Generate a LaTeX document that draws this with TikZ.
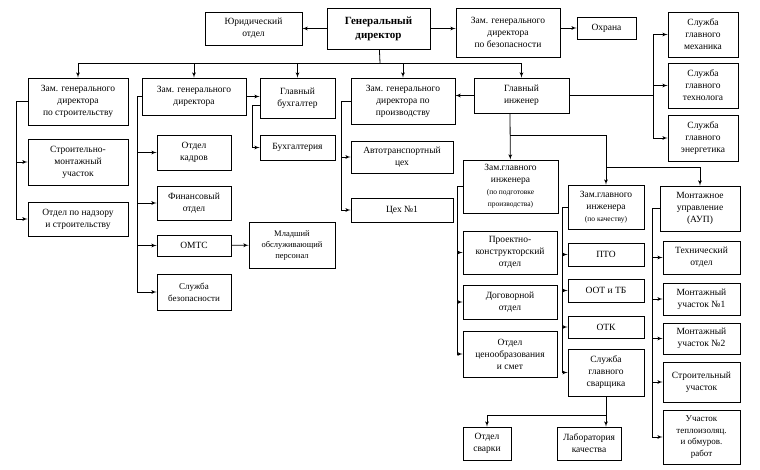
\documentclass[tikz,border=0pt]{standalone}
\usepackage{fontspec}
\setmainfont{Liberation Serif}
\usetikzlibrary{arrows}
\newcommand{\sm}{\fontsize{7.5}{9}\selectfont}
\begin{document}
\begin{tikzpicture}[x=1pt,y=-1pt,>=latex',thick,
  box/.style={draw, rectangle, align=center, inner sep=1pt, font=\fontsize{9.5}{12}\selectfont}]
	\useasboundingbox (0,0) rectangle (760,469);
	\node [box, minimum width=97, minimum height=33] (n0) at (253.5,28.5) {Юридический\\отдел};
	\node [box, minimum width=103, minimum height=41, font=\fontsize{11}{14}\selectfont\bfseries] (n1) at (378.5,28.5) {Генеральный\\директор};
	\node [box, minimum width=104, minimum height=49] (n2) at (508,32.5) {Зам. генерального\\директора\\по безопасности};
	\node [box, minimum width=59, minimum height=22] (n3) at (606.5,28) {Охрана};
	\node [box, minimum width=70, minimum height=45] (n4) at (703,34.5) {Служба\\главного\\механика};
	\node [box, minimum width=70, minimum height=45] (n5) at (703,85.5) {Служба\\главного\\технолога};
	\node [box, minimum width=70, minimum height=46] (n6) at (703,138) {Служба\\главного\\энергетика};
	\node [box, minimum width=100, minimum height=47] (n7) at (78,101.5) {Зам. генерального\\директора\\по строительству};
	\node [box, minimum width=104, minimum height=37] (n8) at (194,96.5) {Зам. генерального\\директора};
	\node [box, minimum width=75, minimum height=40] (n9) at (297.5,98) {Главный\\бухгалтер};
	\node [box, minimum width=104, minimum height=46] (n10) at (403,101) {Зам. генерального\\директора по\\производству};
	\node [box, minimum width=95, minimum height=35] (n11) at (521.5,95.5) {Главный\\инженер};
	\node [box, minimum width=100, minimum height=46] (n12) at (78,162) {Строительно-\\монтажный\\участок};
	\node [box, minimum width=100, minimum height=34] (n13) at (78,219) {Отдел по надзору\\и строительству};
	\node [box, minimum width=74, minimum height=35] (n14) at (194,152.5) {Отдел\\кадров};
	\node [box, minimum width=74, minimum height=34] (n15) at (194,203) {Финансовый\\отдел};
	\node [box, minimum width=74, minimum height=21] (n16) at (194,245.5) {ОМТС};
	\node [box, minimum width=74, minimum height=36, font=\fontsize{9}{12}\selectfont] (n17) at (194,292) {Служба\\безопасности};
	\node [box, minimum width=86, minimum height=46, font=\fontsize{8.5}{11}\selectfont] (n18) at (292,245) {Младший\\обслуживающий\\персонал};
	\node [box, minimum width=75, minimum height=25] (n19) at (297.5,147.5) {Бухгалтерия};
	\node [box, minimum width=102, minimum height=32] (n20) at (402,157) {Автотранспортный\\цех};
	\node [box, minimum width=102, minimum height=24] (n21) at (402,210) {Цех №1};
	\node [box, minimum width=95, minimum height=53] (n22) at (510.5,186.5) {Зам.главного\\инженера\\\sm(по подготовке\\\sm производства)};
	\node [box, minimum width=94, minimum height=43] (n23) at (510,252.5) {Проектно-\\конструкторский\\отдел};
	\node [box, minimum width=94, minimum height=34] (n24) at (510,302) {Договорной\\отдел};
	\node [box, minimum width=94, minimum height=46] (n25) at (510,354) {Отдел\\ценообразования\\и смет};
	\node [box, minimum width=76, minimum height=44] (n26) at (606,207) {Зам.главного\\инженера\\\sm(по качеству)};
	\node [box, minimum width=76, minimum height=23] (n27) at (606,254.5) {ПТО};
	\node [box, minimum width=76, minimum height=23] (n28) at (606,290.5) {ООТ и ТБ};
	\node [box, minimum width=76, minimum height=22] (n29) at (606,327) {ОТК};
	\node [box, minimum width=76, minimum height=47] (n30) at (606,372.5) {Служба\\главного\\сварщика};
	\node [box, minimum width=48, minimum height=33] (n31) at (487,443.5) {Отдел\\сварки};
	\node [box, minimum width=64, minimum height=33] (n32) at (589,443.5) {Лаборатория\\качества};
	\node [box, minimum width=80, minimum height=45] (n33) at (700,208.5) {Монтажное\\управление\\(АУП)};
	\node [box, minimum width=77, minimum height=33] (n34) at (701.5,257.5) {Технический\\отдел};
	\node [box, minimum width=77, minimum height=32] (n35) at (701.5,299) {Монтажный\\участок №1};
	\node [box, minimum width=77, minimum height=31] (n36) at (701.5,338.5) {Монтажный\\участок №2};
	\node [box, minimum width=77, minimum height=40] (n37) at (701.5,382) {Строительный\\участок};
	\node [box, minimum width=77, minimum height=54, font=\fontsize{9}{11.5}\selectfont] (n38) at (701.5,437) {Участок\\теплоизоляц.\\и обмуров.\\работ};
	\coordinate (top) at (380,63);
	\coordinate (j1) at (510,135);
	\coordinate (j2) at (606,167);
	\coordinate (j3) at (606,415);
	\draw [->] (n1) -- (n0);
	\draw [->] (n1.east) -- (n1.east -| n2.west);
	\draw [->] (n2.east |- n3) -- (n3);
	\draw (n1) -- (top);
	\foreach \n in {n7,n8,n9,n10,n11}
		\draw [->] (top) -| (\n);
	\foreach \n in {n12,n13}
		\draw [->] (n7.west) -- ++(-11,0) |- (\n);
	\foreach \n in {n14,n15,n16,n17}
		\draw [->] (n8.west) -- ++(-4,0) |- (\n);
	\draw [->] (n8.east) -- (n8.east -| n9.west);
	\draw [->] ([yshift=-7pt]n9.west) -- ++(-7,0) |- (n19);
	\draw [->] (n16) -- (n18);
	\foreach \n in {n20,n21}
		\draw [->] (n10.west) -- ++(-9,0) |- (\n);
	\draw [->] (n11.west) -- (n11.west -| n10.east);
	\foreach \n in {n4,n5,n6}
		\draw [->] (n11.east) -- ++(84,0) |- (\n);
	\draw [->] (n11.south -| j1) -- (n22);
	\draw (j1) -| (j2);
	\draw [->] (j2) -- (n26);
	\draw [->] (j2) -| (n33);
	\foreach \n in {n23,n24,n25}
		\draw [->] (n22.west) -- ++(-5,0) |- (\n);
	\foreach \n in {n27,n28,n29,n30}
		\draw [->] (n26.west) -- ++(-5,0) |- (\n);
	\draw (n30) -- (j3);
	\draw [->] (j3) -| (n31);
	\draw [->] (j3) -- (j3 |- n32.north);
	\foreach \n in {n34,n35,n36,n37,n38}
		\draw [->] (n33.west) -- ++(-7,0) |- (\n);
\end{tikzpicture}
\end{document}
